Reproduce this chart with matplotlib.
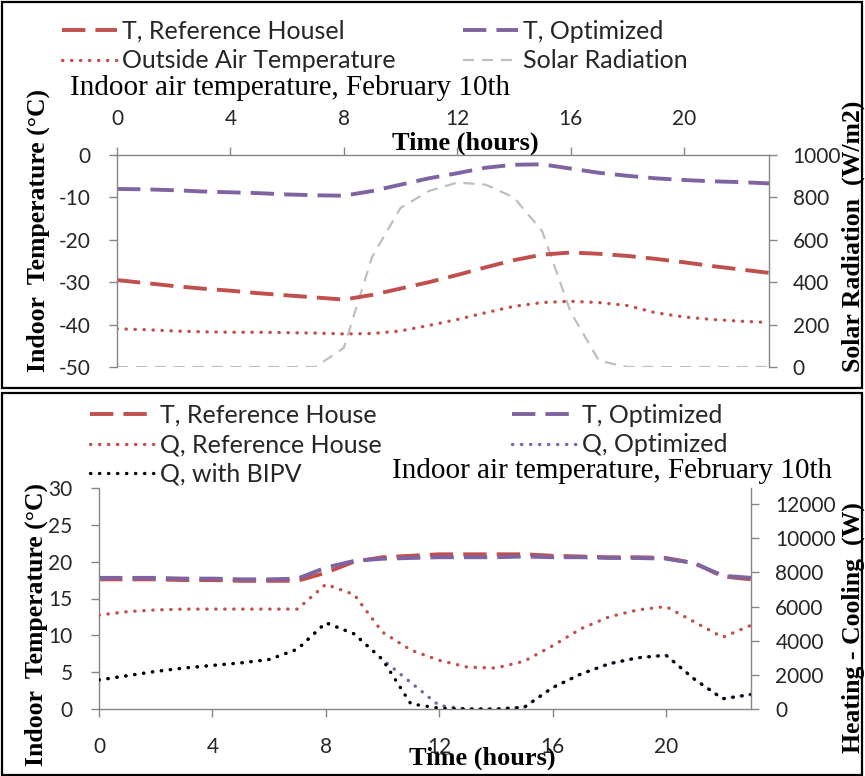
import matplotlib
matplotlib.use("Agg")
import matplotlib.pyplot as plt
import matplotlib.patches as patches
from matplotlib.lines import Line2D

plt.rcParams["axes.unicode_minus"] = False

# ---- data ----
hours = list(range(24))

# top panel: February 10th, free floating
t_ref_top = [-29.5, -30.2, -30.9, -31.5, -32.0, -32.6, -33.1, -33.6, -34.1, -33.0, -31.5, -30.0,
             -28.3, -26.5, -24.8, -23.5, -23.0, -23.3, -23.8, -24.5, -25.3, -26.2, -27.0, -27.8]
t_opt_top = [-8.0, -8.1, -8.3, -8.6, -8.8, -9.0, -9.3, -9.5, -9.6, -8.5, -7.0, -5.5,
             -4.3, -3.0, -2.3, -2.2, -3.2, -4.2, -4.9, -5.5, -5.9, -6.2, -6.4, -6.7]
t_outside = [-41.0, -41.2, -41.5, -41.7, -41.8, -41.8, -41.9, -42.0, -42.2, -42.1, -41.5, -40.2,
             -38.8, -37.2, -35.7, -34.8, -34.5, -34.8, -35.5, -37.2, -38.2, -38.8, -39.2, -39.5]
solar = [0, 0, 0, 0, 0, 0, 0, 0, 90, 520, 750, 830, 870, 860, 800, 640, 260, 30, 0, 0, 0, 0, 0, 0]

# bottom panel: February 10th, conditioned
t_ref_bot = [17.6, 17.6, 17.6, 17.5, 17.5, 17.4, 17.4, 17.4, 18.5, 20.0, 20.6, 20.8,
             21.0, 21.0, 21.0, 21.0, 20.8, 20.7, 20.6, 20.6, 20.5, 19.8, 18.0, 17.6]
t_opt_bot = [17.8, 17.8, 17.8, 17.7, 17.7, 17.6, 17.6, 17.7, 19.2, 20.1, 20.4, 20.5,
             20.6, 20.6, 20.6, 20.7, 20.6, 20.6, 20.5, 20.5, 20.4, 19.8, 18.1, 17.8]
q_ref = [5500, 5700, 5800, 5850, 5850, 5850, 5850, 5850, 7300, 6700, 4500, 3450,
         2850, 2450, 2400, 2800, 3700, 4700, 5400, 5800, 6000, 5100, 4200, 4900]
q_opt = [1700, 1950, 2200, 2400, 2550, 2700, 2900, 3500, 5050, 4400, 2900, 1550,
         200, 0, 0, 100, 1250, 2050, 2650, 3000, 3150, 1750, 600, 850]
q_bipv = [1700, 1950, 2200, 2400, 2550, 2700, 2900, 3500, 5050, 4400, 2900, 300,
          50, 0, 0, 100, 1250, 2050, 2650, 3000, 3150, 1750, 600, 850]

x_ticks = [0, 4, 8, 12, 16, 20]

RED = "#C0504D"
PURPLE = "#8064A2"
GRAY = "#BFBFBF"
SPINE = "#868686"
TXT = "#262626"
SANS = ["Lato", "DejaVu Sans"]
SERIF = ["Liberation Serif", "DejaVu Serif"]

DASH = dict(lw=2.8, linestyle=(0, (6, 2.6)))
DOT = dict(lw=2.4, linestyle=(0, (0.1, 2.6)), dash_capstyle="round")
GDASH = dict(lw=1.6, linestyle=(0, (5, 3.5)))

W, H = 865, 776
fig = plt.figure(figsize=(W / 100, H / 100), dpi=100)


def fx(px):
    return px / W


def fy(py):
    return 1 - py / H


def style(ax, sides):
    for s in ["top", "bottom", "left", "right"]:
        ax.spines[s].set_visible(s in sides)
        ax.spines[s].set_color(SPINE)
        ax.spines[s].set_linewidth(1.0)
    ax.tick_params(colors=SPINE, labelcolor=TXT, length=6, width=1.0, labelsize=15)
    for lab in ax.get_xticklabels() + ax.get_yticklabels():
        lab.set_family(SANS)


# ---------------- top panel ----------------
ax1 = fig.add_axes([fx(117), fy(367), fx(652), (367 - 155) / H])
ax1.plot(hours, t_ref_top, color=RED, **DASH)
ax1.plot(hours, t_opt_top, color=PURPLE, **DASH)
ax1.plot(hours, t_outside, color=RED, **DOT)
ax1.set_xlim(0, 23)
ax1.set_ylim(-50, 0)
ax1.set_yticks(range(-50, 1, 10))
ax1.set_xticks(x_ticks)
ax1.xaxis.tick_top()
ax1b = ax1.twinx()
ax1b.plot(hours, solar, color=GRAY, **GDASH)
ax1b.set_ylim(0, 1000)
ax1b.set_yticks(range(0, 1001, 200))
style(ax1, ["top", "left"])
style(ax1b, ["right"])
ax1.tick_params(axis="x", pad=13)
ax1.tick_params(axis="y", pad=13)
ax1b.tick_params(axis="y", pad=11)
ax1b.set_zorder(0)
ax1.set_zorder(1)
ax1.patch.set_visible(False)

# ---------------- bottom panel ----------------
ax2 = fig.add_axes([fx(99), fy(709), fx(652), (709 - 488) / H])
ax2.plot(hours, t_ref_bot, color=RED, **DASH)
ax2.plot(hours, t_opt_bot, color=PURPLE, **DASH)
ax2.set_xlim(0, 23)
ax2.set_ylim(0, 30)
ax2.set_yticks(range(0, 31, 5))
ax2.set_xticks(x_ticks)
ax2b = ax2.twinx()
ax2b.plot(hours, q_ref, color=RED, **DOT)
ax2b.plot(hours, q_opt, color=PURPLE, **DOT)
ax2b.plot(hours, q_bipv, color="black", **DOT)
ax2b.set_ylim(0, 12940)
ax2b.set_yticks(range(0, 12001, 2000))
style(ax2, ["bottom", "left"])
style(ax2b, ["right"])
ax2.tick_params(axis="x", pad=14)
ax2.tick_params(axis="y", pad=13)
ax2b.tick_params(axis="y", pad=11.5)

# ---------------- text ----------------
lab = dict(family=SERIF, fontweight="bold", color="black", ha="center", va="center")
fig.text(fx(465), fy(143), "Time (hours)", fontsize=19, **lab)
fig.text(fx(482), fy(758), "Time (hours)", fontsize=19, **lab)
fig.text(fx(38), fy(230), "Indoor  Temperature (\u00b0C)", rotation=90, fontsize=18.5, **lab)
fig.text(fx(36), fy(625), "Indoor  Temperature (\u00b0C)", rotation=90, fontsize=18.5, **lab)
fig.text(fx(853), fy(236), "Solar Radiation  (W/m2)", rotation=90, fontsize=18.5, **lab)
fig.text(fx(853), fy(628), "Heating - Cooling  (W)", rotation=90, fontsize=18.5, **lab)

ttl = dict(family=SERIF, fontsize=21, color="black", va="center", ha="left")
fig.text(fx(70), fy(88), "Indoor air temperature, February 10th", **ttl)
fig.text(fx(392), fy(471), "Indoor air temperature, February 10th", **ttl)

# ---------------- legends ----------------
def h(color, st):
    return Line2D([], [], color=color, **st)


leg_kw = dict(frameon=False, ncol=2, handletextpad=0.2,
              labelspacing=0.25, borderaxespad=0, loc="upper left",
              prop=dict(family=SANS, size=18), labelcolor=TXT)
top_handles = [h(RED, DASH), h(RED, DOT), h(PURPLE, DASH), h(GRAY, GDASH)]
top_labels = ["T, Reference Housel", "Outside Air Temperature", "T, Optimized", "Solar Radiation"]
fig.legend(top_handles, top_labels, bbox_to_anchor=(fx(52), fy(10)),
           handlelength=2.2, columnspacing=2.7, **leg_kw)

bot_handles = [h(RED, DASH), h(RED, DOT), h("black", DOT), h(PURPLE, DASH), h(PURPLE, DOT)]
bot_labels = ["T, Reference House", "Q, Reference House", "Q, with BIPV", "T, Optimized", "Q, Optimized"]
fig.legend(bot_handles, bot_labels, bbox_to_anchor=(fx(80), fy(394)),
           handlelength=2.6, columnspacing=5.2, **leg_kw)

# panel frames
for y0, y1 in [(2, 388), (393, 775)]:
    fig.patches.append(patches.Rectangle((fx(2), fy(y1)), fx(860), (y1 - y0) / H,
                                         transform=fig.transFigure, fill=False,
                                         edgecolor="black", lw=1.6))

fig.savefig("out.png", dpi=100)
